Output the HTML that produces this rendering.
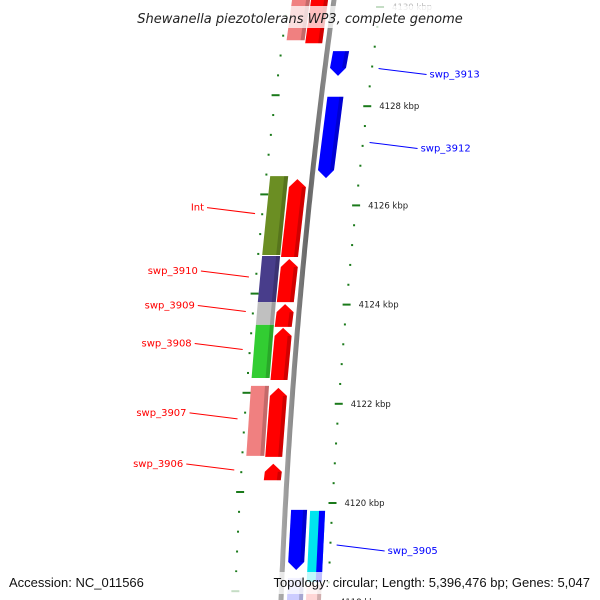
<!DOCTYPE html>
<html><head><meta charset="utf-8"><style>
body{margin:0;background:#fff}
svg{display:block}
text{font-family:"DejaVu Sans","Liberation Sans",sans-serif}
</style></head><body>
<svg id="map" width="600" height="600" viewBox="0 0 600 600">
<defs>
<linearGradient id="bb" x1="0" x2="1"><stop offset="0" stop-color="#aaa"/><stop offset="0.5" stop-color="#666"/><stop offset="1" stop-color="#999"/></linearGradient>
</defs>
<g id="ticks"></g>
<path id="backbone" fill="none" stroke="url(#bb)" stroke-width="5"/>
<g id="genes"></g>
<g id="labels"></g>
<rect x="125" y="6" width="350" height="22" fill="#fff" opacity="0.75"/>
<text x="300" y="23" text-anchor="middle" font-size="13" font-style="italic" fill="#222">Shewanella piezotolerans WP3, complete genome</text>
<rect x="0" y="572" width="600" height="22" fill="#fff" opacity="0.75"/>
<text x="9" y="587" font-size="13" fill="#111" style="font-family:'Liberation Sans',sans-serif">Accession: NC_011566</text>
<text x="590" y="587" text-anchor="end" font-size="13" fill="#111" style="font-family:'Liberation Sans',sans-serif">Topology: circular; Length: 5,396,476 bp; Genes: 5,047</text>
</svg>
<script>
// data
const geneNames=['','','swp_3913','swp_3912','Int','','swp_3910','','swp_3909','','swp_3908','','swp_3907','','swp_3906','swp_3905','','',''];
const geneStart=[4129.33,4129.27,4128.61,4126.55,4125.00,4124.96,4124.05,4124.05,4123.59,4123.55,4122.52,4122.48,4120.95,4120.93,4120.46,4118.65,4118.41,4117.94,4117.94];
const geneEnd  =[4130.24,4130.24,4129.11,4128.19,4126.59,4126.53,4124.98,4124.92,4124.05,4124.01,4123.59,4123.53,4122.36,4122.32,4120.79,4119.86,4119.84,4118.49,4118.35];
const geneStrand=[0,0,-1,-1,0,1,0,1,0,1,0,1,0,1,1,-1,0,0,0];
const geneColor=['#f08080','#ff0000','#0000ff','#0000ff','#6b8e23','#ff0000','#483d8b','#ff0000','#c0c0c0','#ff0000','#32cd32','#ff0000','#f08080','#ff0000','#ff0000','#0000ff','#00e5ee','#ccccff','#ffd6d6'];
const geneTrack=[-2,-1,1,1,-2,-1,-2,-1,-2,-1,-2,-1,-2,-1,-1,1,2,1,2];

const Y=k=>503-(k-4120)*49.6;
const BX=y=>334-0.1383*y+8.33e-5*y*y;
const NS='http://www.w3.org/2000/svg';
function mk(t,a,p){const e=document.createElementNS(NS,t);for(const k in a)e.setAttribute(k,a[k]);p.appendChild(e);return e;}
let d='';for(let y=-5;y<=605;y+=5){d+=(y<0?'M':'L')+BX(y).toFixed(1)+' '+y+' ';}
document.getElementById('backbone').setAttribute('d',d);
const tg=document.getElementById('ticks');
for(let n=-6;n<=26;n++){
  const kk=Math.round((4120+n*0.4)*10)/10, y=Y(kk), major=n%5===0;
  const bx=BX(y);
  const t1=mk('line',{x1:bx+47-(major?4:1),x2:bx+47+(major?4:1),y1:y,y2:y,stroke:'#1a7a1a','stroke-width':2},tg);
  
  
  const yi=y-11, bi=BX(yi);
  const t2=mk('line',{x1:bi-46-(major?4:1),x2:bi-46+(major?4:1),y1:yi,y2:yi,stroke:'#1a7a1a','stroke-width':2},tg);
  
  
  if(major){
    const lt=mk('text',{x:bx+59,y:y+3,'font-size':8.5,fill:kk>=4130?'#bbb':'#222'},tg);
    lt.textContent=kk+' kbp';
    
    
  }
}
const gg=document.getElementById('genes'), lg=document.getElementById('labels');
const trackOff={'-2':[-42,-24],'-1':[-23,-6],'1':[6,22],'2':[25,40]};
for(let i=0;i<geneStart.length;i++){
  const y1=Y(geneEnd[i]), y2=Y(geneStart[i]);
  const [o1,o2]=trackOff[geneTrack[i]];
  const b1=BX(y1), b2=BX(y2);
  const ah=Math.min(8,(y2-y1)/2);
  let pts;
  if(geneStrand[i]===1){
    pts=[[b1+o1,y1+ah],[b1+(o1+o2)/2,y1],[b1+o2,y1+ah],[b2+o2,y2],[b2+o1,y2]];
  }else if(geneStrand[i]===-1){
    pts=[[b1+o1,y1],[b1+o2,y1],[b2+o2,y2-ah],[b2+(o1+o2)/2,y2],[b2+o1,y2-ah]];
  }else{
    pts=[[b1+o1,y1],[b1+o2,y1],[b2+o2,y2],[b2+o1,y2]];
  }
  const p=mk('polygon',{points:pts.map(q=>q.map(v=>v.toFixed(1)).join(',')).join(' '),fill:geneColor[i]},gg);
  
  
  const sh=mk('polygon',{points:[[b1+o2-4,y1+(geneStrand[i]===1?ah:0)],[b1+o2,y1+(geneStrand[i]===1?ah:0)],[b2+o2,y2-(geneStrand[i]===-1?ah:0)],[b2+o2-4,y2-(geneStrand[i]===-1?ah:0)]].map(q=>q.map(v=>v.toFixed(1)).join(',')).join(' '),fill:'#000',opacity:0.18},gg);
  
  
  if(i===16){const q=mk('polygon',{points:[[b1+o1+9,y1],[b1+o2,y1],[b2+o2,y2],[b2+o1+9,y2]].map(q=>q.map(v=>v.toFixed(1)).join(',')).join(' '),fill:'#0000ff'},gg);
    
    }
  const name=geneNames[i];
  if(name){
    const ym=(y1+y2)/2, bm=BX(ym), right=geneTrack[i]>0;
    const col=right?'#0000ff':'#ff0000';
    let x1,yA,x2,yB;
    if(right){x1=bm+53;yA=ym+5;x2=bm+101;yB=ym+11;}
    else{x1=bm-53;yA=ym-2;x2=bm-101;yB=ym-8;}
    const ln=mk('line',{x1:x1,y1:yA,x2:x2,y2:yB,stroke:col,'stroke-width':1},lg);
    
    
    const tx=mk('text',{x:right?x2+3:x2-3,y:yB+3,'font-size':10,fill:col,'text-anchor':right?'start':'end'},lg);
    tx.textContent=name;
    
    
  }
}
</script>
</body></html>
